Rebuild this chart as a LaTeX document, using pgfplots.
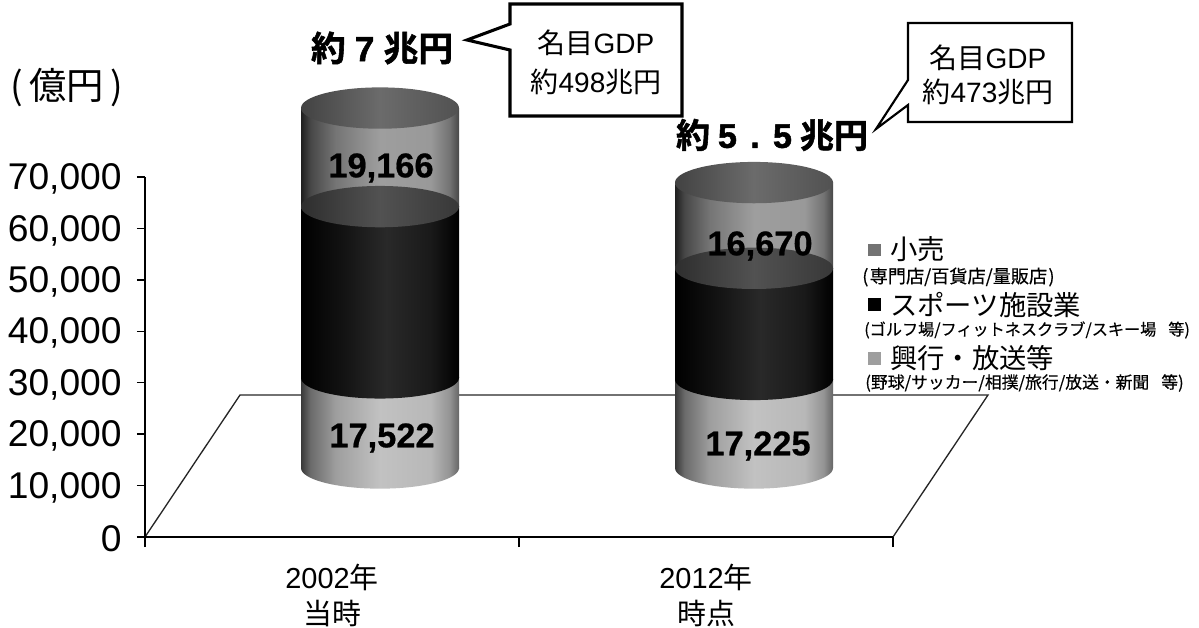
\documentclass[border=0pt]{standalone}
\usepackage{fontspec}
\usepackage{pgfplots}
\pgfplotsset{compat=1.18}
\usetikzlibrary{shapes.geometric}
\setmainfont{Liberation Sans}
\newfontfamily\cjk{Noto Sans CJK JP}
\newfontfamily\cjks{Noto Sans CJK JP}[FakeBold=0.4]
\newfontfamily\cjkb{Noto Sans CJK JP Bold}[FakeBold=1.6]
\newfontfamily\latb{Liberation Sans Bold}[FakeBold=1.6]
\newfontfamily\latv{Liberation Sans Bold}[FakeBold=0.6]
\newcommand{\fs}[1]{\fontsize{#1}{#1}\selectfont}
\pgfdeclarehorizontalshading{botS}{100bp}{
  color(0bp)=(black!78); color(25bp)=(black!78); color(28bp)=(black!58); color(36bp)=(black!38);
  color(50bp)=(black!24); color(66bp)=(black!28); color(72bp)=(black!42); color(75bp)=(black!60); color(100bp)=(black!60)}
\pgfdeclarehorizontalshading{midS}{100bp}{
  color(0bp)=(black); color(25bp)=(black); color(36bp)=(black!94); color(52bp)=(black!84);
  color(66bp)=(black!90); color(75bp)=(black); color(100bp)=(black)}
\pgfdeclarehorizontalshading{topS}{100bp}{
  color(0bp)=(black!88); color(25bp)=(black!88); color(28bp)=(black!72); color(36bp)=(black!54);
  color(50bp)=(black!38); color(66bp)=(black!40); color(72bp)=(black!55); color(75bp)=(black!72); color(100bp)=(black!72)}
\pgfdeclarehorizontalshading{ringS}{100bp}{
  color(0bp)=(black!82); color(25bp)=(black!82); color(50bp)=(black!68); color(75bp)=(black!78); color(100bp)=(black!78)}
\pgfdeclarehorizontalshading{lidS}{100bp}{
  color(0bp)=(black!74); color(25bp)=(black!74); color(50bp)=(black!58); color(75bp)=(black!68); color(100bp)=(black!68)}
\pgfplotsset{
  base/.style={scale only axis,width=561pt,height=270pt,at={(108.75pt,68.25pt)},anchor=south west,
    xmin=0,xmax=2,ymin=0,ymax=70000,clip=false},
  cyl/.style={draw=none,xshift=36pt,yshift=51.75pt},
  bot/.style={cyl,shade,shading=botS},
  mid/.style={cyl,shade,shading=midS},
  top/.style={cyl,shade,shading=topS},
  lid/.style={cyl,mark=none,only marks,nodes near coords={\phantom{.}},
    nodes near coords style={ellipse,anchor=center,inner sep=0pt,minimum width=118.5pt,minimum height=31pt,draw=none,shade,shading=#1}},
}
\begin{document}
\begin{tikzpicture}
\useasboundingbox (0,0) rectangle (899.25pt,471pt);
\begin{scope}[x=0.75pt,y=-0.75pt,shift={(0pt,471pt)}]
\draw[line width=1pt,black!85] (145,537) -- (240,395) -- (988,395) -- (893,537);
\end{scope}
\begin{axis}[base,
  axis x line=bottom,axis y line=left,axis line style={-,line width=1.1pt},
  ybar stacked,bar width=118.5pt,
  xtick={0.5,1.5},xticklabels={{2002{\cjk 年}\\[5pt]{\cjk 当時}},{2012{\cjk 年}\\[5pt]{\cjk 時点}}},
  minor xtick={0,1,2},major x tick style={draw=none},
  minor tick length=7.5pt,
  x tick label style={align=center,font=\fs{21.7},yshift=-11pt},
  ytick={0,10000,...,70000},
  tick align=outside,major tick length=6pt,
  tick style={line width=1pt,black},
  y tick label style={font=\fs{27.9},/pgf/number format/assume math mode=true,
    /pgf/number format/1000 sep={,},xshift=-8pt,yshift=-1.5pt},
  scaled y ticks=false,
]
\addplot[bot] coordinates {(0.5,17522)};
\addplot[mid] coordinates {(0.5,33300)};
\addplot[top] coordinates {(0.5,19166)};
\end{axis}
\begin{axis}[base,hide axis,ybar stacked,bar width=118.5pt]
\addplot[bot] coordinates {(1.5,17225)};
\addplot[mid] coordinates {(1.5,21600)};
\addplot[top] coordinates {(1.5,16670)};
\end{axis}
\begin{axis}[base,hide axis]
\addplot[lid=botS] coordinates {(0.5,0) (1.5,0)};
\addplot[lid=midS] coordinates {(0.5,17522) (1.5,17225)};
\addplot[lid=ringS] coordinates {(0.5,50822) (1.5,38825)};
\addplot[lid=lidS] coordinates {(0.5,69988) (1.5,55495)};
\end{axis}
\begin{scope}[x=0.75pt,y=-0.75pt,shift={(0pt,471pt)}]
\node[font=\latv\fs{25.8}] at (381,168) {19,166};
\node[font=\latv\fs{25.8}] at (382,438) {17,522};
\node[font=\latv\fs{25.8}] at (760,246) {16,670};
\node[font=\latv\fs{25.8}] at (758,446) {17,225};
\node[font=\cjk\fs{28}] at (67,88) {(\hspace{5pt}億円\hspace{5pt})};
\node[font=\fs{26}] at (382,48) {{\cjkb 約}\hspace{7pt}{\latb 7}\hspace{7pt}{\cjkb 兆円}};
\node[font=\fs{25.5}] at (772,135) {{\cjkb 約}\hspace{6pt}{\latb 5}\hspace{10pt}{\latb .}\hspace{10pt}{\latb 5}\hspace{6pt}{\cjkb 兆円}};
\draw[line width=2.3pt,fill=white,miter limit=10] (510,4) -- (682,4) -- (682,116) -- (510,116) -- (510,50) -- (467,40) -- (510,24) -- cycle;
\node[font=\fs{21},align=center] at (596,43) {{\cjk 名目}GDP};
\node[font=\fs{21},align=center] at (596,82) {{\cjk 約}498{\cjk 兆円}};
\draw[line width=1.6pt,fill=white,miter limit=10] (908,23) -- (1072,23) -- (1072,122) -- (908,122) -- (908,105) -- (876,129) -- (908,80) -- cycle;
\node[font=\fs{21},align=center] at (988,58) {{\cjk 名目}GDP};
\node[font=\fs{21},align=center] at (988,92) {{\cjk 約}473{\cjk 兆円}};
\fill[black!55] (868,244) rectangle (881,256);
\fill[black] (868,298) rectangle (881,311);
\fill[black!38] (868,352) rectangle (881,365);
\node[font=\cjk\fs{20.5},anchor=west,inner sep=0pt] at (890,249) {小売};
\node[font=\cjk\fs{20.5},anchor=west,inner sep=0pt] at (890,305) {スポーツ施設業};
\node[font=\cjk\fs{20.5},anchor=west,inner sep=0pt] at (890,358) {興行・放送等};
\node[font=\cjks\fs{13.6},anchor=west,inner sep=0pt] at (862,277) {(\hspace{1pt}専門店/百貨店/量販店\hspace{1pt})};
\node[font=\cjks\fs{12.1},anchor=west,inner sep=0pt] at (864,330) {(ゴルフ場/フィットネスクラブ/スキー場\hspace{9pt}等)};
\node[font=\cjks\fs{12.6},anchor=west,inner sep=0pt] at (865,383) {(野球/サッカー/相撲/旅行/放送・新聞\hspace{9pt}等)};
\end{scope}
\end{tikzpicture}
\end{document}
